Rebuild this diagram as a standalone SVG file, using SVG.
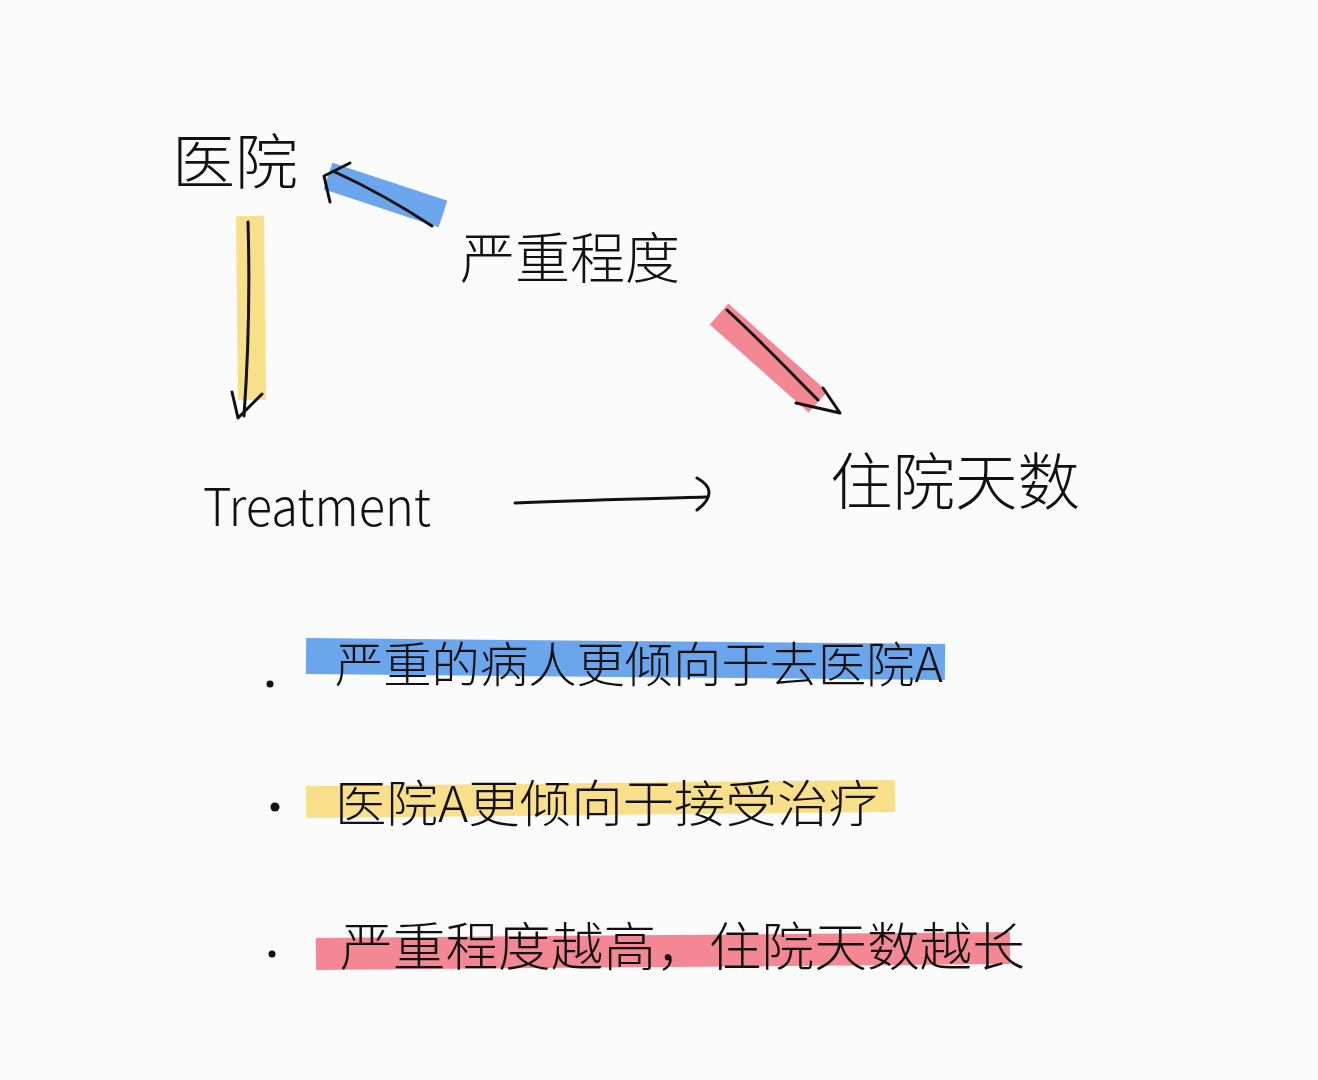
<svg xmlns="http://www.w3.org/2000/svg" width="1318" height="1080" viewBox="0 0 1318 1080">
<style>
text{font-family:"Noto Sans CJK SC","Liberation Sans",sans-serif;fill:#111;font-weight:300}
.ink{fill:none;stroke:#111;stroke-width:3;stroke-linecap:round;stroke-linejoin:round}
.hl{fill:none;stroke-linecap:butt;opacity:0.9}
</style>
<rect width="1318" height="1080" fill="#fbfbfb"/>
<g id="highlights">
<line class="hl" x1="328" y1="176" x2="443" y2="214" stroke="#5b9bea" stroke-width="28"/>
<line class="hl" x1="250" y1="216" x2="252" y2="400" stroke="#f8dc7c" stroke-width="28"/>
<line class="hl" x1="719" y1="314" x2="818" y2="402" stroke="#f27b88" stroke-width="28"/>
<line class="hl" x1="306" y1="656" x2="945" y2="662" stroke="#5b9bea" stroke-width="36"/>
<line class="hl" x1="306" y1="802" x2="895" y2="796" stroke="#f8dc7c" stroke-width="32"/>
<line class="hl" x1="316" y1="954" x2="1010" y2="948" stroke="#f27b88" stroke-width="32"/>
</g>
<g id="node-hospital"><text x="172" y="184" font-size="60" textLength="126" lengthAdjust="spacingAndGlyphs">医院</text></g>
<g id="node-severity"><text x="460" y="278" font-size="55" textLength="220" lengthAdjust="spacingAndGlyphs">严重程度</text></g>
<g id="node-treatment"><text x="203" y="526" font-size="52" textLength="228" lengthAdjust="spacingAndGlyphs">Treatment</text></g>
<g id="node-stay"><text x="830" y="505" font-size="62" textLength="250" lengthAdjust="spacingAndGlyphs">住院天数</text></g>
<g id="connectors">
<path class="ink" d="M432 226 C400 205 370 188 335 172"/>
<path class="ink" d="M330 202 L324 176 L350 163"/>
<path class="ink" d="M248 222 C250 290 248 360 244 416"/>
<path class="ink" d="M232 392 L238 418 L262 394"/>
<path class="ink" d="M727 310 C760 340 790 372 818 400"/>
<path class="ink" d="M796 403 L840 413 L823 388"/>
<path class="ink" d="M515 503 C580 500 640 499 706 497"/>
<path class="ink" d="M697 478 C712 486 714 497 697 510"/>
</g>
<g id="bullets">
<circle cx="270" cy="684" r="3.5" fill="#111"/>
<text x="335" y="682" font-size="48" textLength="608" lengthAdjust="spacingAndGlyphs">严重的病人更倾向于去医院A</text>
<circle cx="275" cy="807" r="4.5" fill="#111"/>
<text x="335" y="822" font-size="50" textLength="545" lengthAdjust="spacingAndGlyphs">医院A更倾向于接受治疗</text>
<circle cx="272" cy="954" r="3.5" fill="#111"/>
<text x="340" y="966" font-size="52" textLength="685" lengthAdjust="spacingAndGlyphs">严重程度越高，住院天数越长</text>
</g>
</svg>
